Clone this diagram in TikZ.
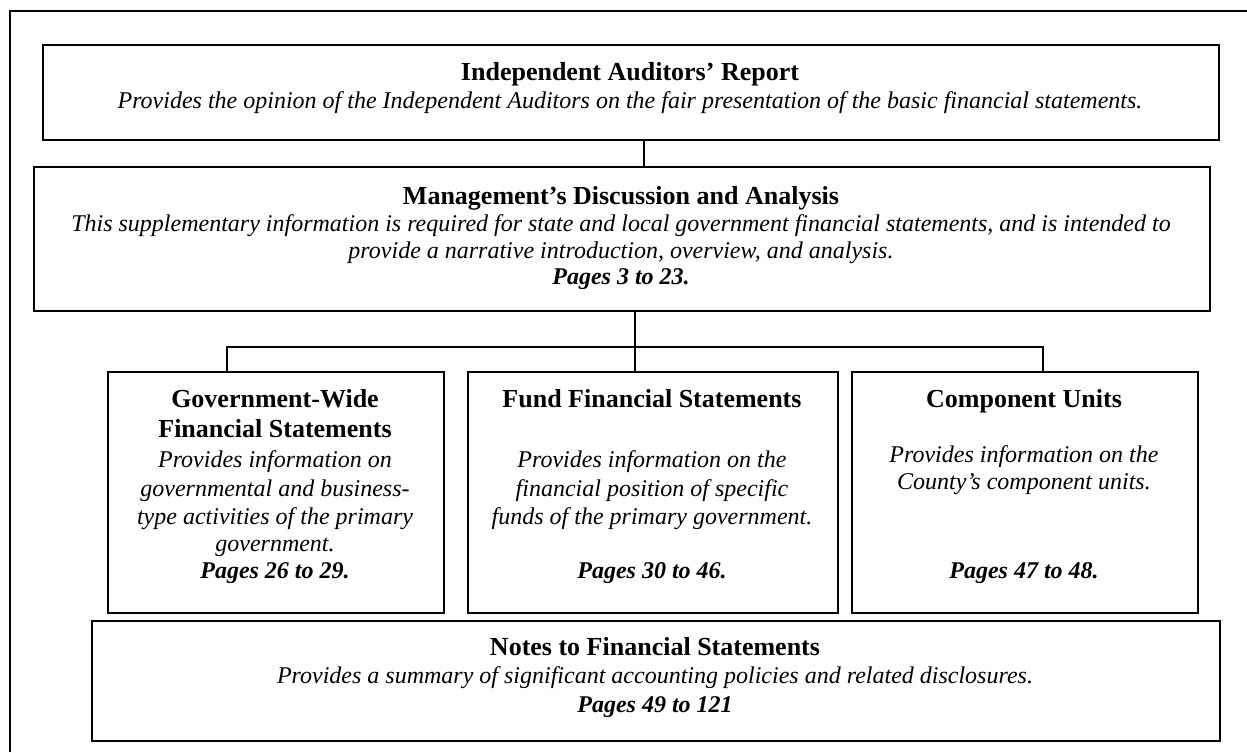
\documentclass[tikz,border=0pt]{standalone}
\usepackage{fontspec}
\setmainfont{Liberation Serif}
\begin{document}
\begin{tikzpicture}[x=1pt,y=-1pt,
  box/.style={draw, line width=1.8pt, inner sep=0pt, anchor=north west},
  conn/.style={line width=1.6pt},
  ttl/.style={font=\fontsize{26}{30}\selectfont\bfseries, anchor=base, inner sep=0pt},
  desc/.style={font=\fontsize{24}{28}\selectfont\itshape, anchor=base, inner sep=0pt},
  pg/.style={font=\fontsize{24}{28}\selectfont\bfseries\itshape, anchor=base, inner sep=0pt}]
\useasboundingbox (0,0) rectangle (1247,752);
% outer frame (cut at right and bottom)
\coordinate (fbl) at (10,752);
\coordinate (ftl) at (10,11);
\coordinate (ftr) at (1247,11);
\draw[line width=2pt] (fbl) -- (ftl) -- (ftr);
% boxes
\node[box, minimum width=1176pt, minimum height=95pt] (iar) at (42,44) {};
\node[box, minimum width=1176pt, minimum height=144pt] (mda) at (33,166) {};
\node[box, minimum width=336pt, minimum height=241pt] (gw) at (107,371) {};
\node[box, minimum width=370pt, minimum height=241pt] (fund) at (467,371) {};
\node[box, minimum width=346pt, minimum height=241pt] (cu) at (851,371) {};
\node[box, minimum width=1128pt, minimum height=120pt] (notes) at (91,620) {};
% connectors
\coordinate (c1) at (644,0);
\coordinate (c2) at (635,0);
\coordinate (hl) at (227,347);
\coordinate (hr) at (1043,347);
\draw[conn] (iar.south -| c1) -- (mda.north -| c1);
\draw[conn] (mda.south -| c2) -- (fund.north -| c2);
\draw[conn] (gw.north -| hl) -- (hl) -- (hr) -- (cu.north -| hr);
% texts: Independent Auditors' Report
\node[ttl] (t1) at (630,81) {Independent Auditors' Report};
\node[desc] (d1) at (630,108) {Provides the opinion of the Independent Auditors on the fair presentation of the basic financial statements.};
% MD&A
\node[ttl] (t2) at (621,204) {Management's Discussion and Analysis};
\node[desc] (d2a) at (621,231) {This supplementary information is required for state and local government financial statements, and is intended to};
\node[desc] (d2b) at (621,258) {provide a narrative introduction, overview, and analysis.};
\node[pg] (p2) at (621,284) {Pages 3 to 23.};
% Government-wide
\node[ttl] (t3a) at (275,407) {Government-Wide};
\node[ttl] (t3b) at (275,437) {Financial Statements};
\node[desc] (d3a) at (275,467) {Provides information on};
\node[desc] (d3b) at (275,496) {governmental and business-};
\node[desc] (d3c) at (275,524) {type activities of the primary};
\node[desc] (d3d) at (275,551) {government.};
\node[pg] (p3) at (275,578) {Pages 26 to 29.};
% Fund
\node[ttl] (t4) at (652,407) {Fund Financial Statements};
\node[desc] (d4a) at (652,467) {Provides information on the};
\node[desc] (d4b) at (652,496) {financial position of specific};
\node[desc] (d4c) at (652,524) {funds of the primary government.};
\node[pg] (p4) at (652,578) {Pages 30 to 46.};
% Component units
\node[ttl] (t5) at (1024,407) {Component Units};
\node[desc] (d5a) at (1024,462) {Provides information on the};
\node[desc] (d5b) at (1024,489) {County's component units.};
\node[pg] (p5) at (1024,578) {Pages 47 to 48.};
% Notes
\node[ttl] (t6) at (655,655) {Notes to Financial Statements};
\node[desc] (d6) at (655,683) {Provides a summary of significant accounting policies and related disclosures.};
\node[pg] (p6) at (655,712) {Pages 49 to 121};
\end{tikzpicture}
\end{document}
